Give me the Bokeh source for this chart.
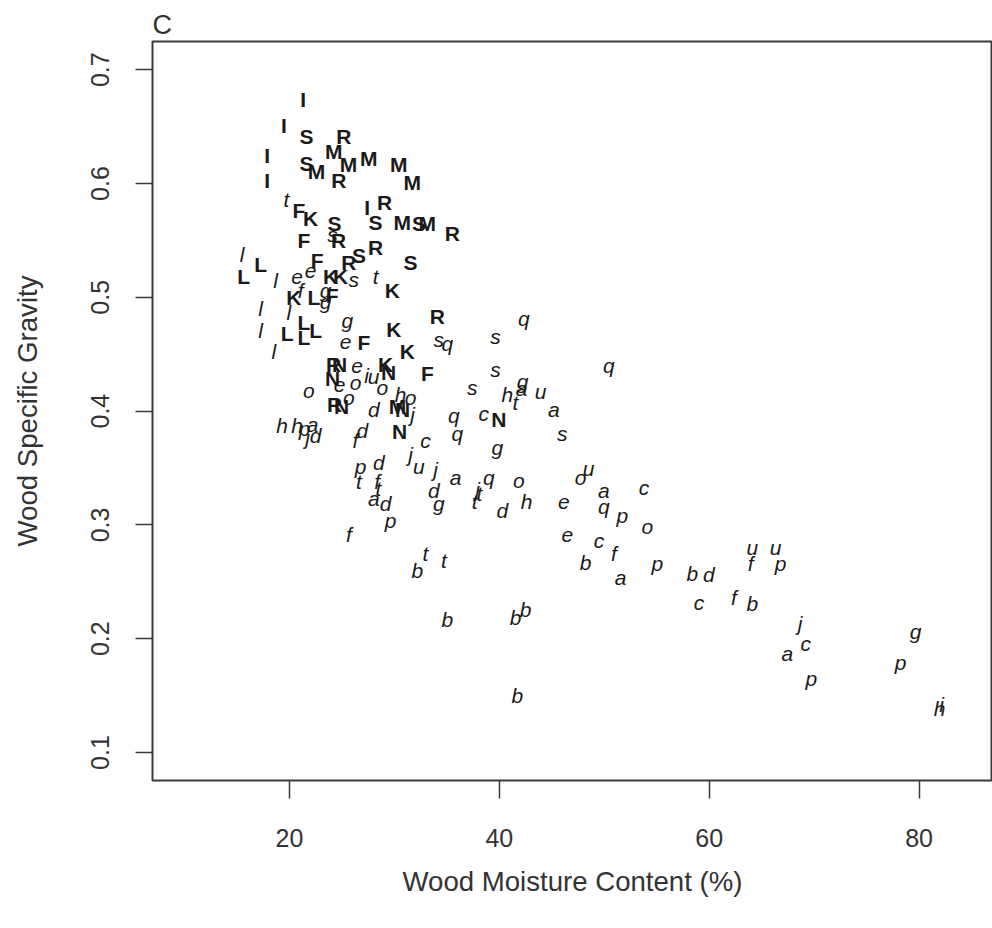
from bokeh.plotting import figure
from bokeh.models import ColumnDataSource, FixedTicker, Range1d
from bokeh.core.properties import value
from bokeh.embed import file_html
from bokeh.resources import INLINE

# Upper-case species codes (bold)
upper_labels = ["I", "I", "S", "R", "I", "M", "S", "M", "M", "M", "M", "R", "I", "M",
                "F", "K", "I", "R", "S", "S", "M", "S", "M", "R", "F", "R", "R", "L",
                "L", "F", "R", "S", "S", "K", "K", "K", "K", "L", "F", "L", "L", "L",
                "L", "F", "K", "R", "K", "F", "R", "N", "K", "N", "N", "R", "N", "M",
                "N", "N", "N"]
upper_moisture = [21.31, 19.46, 21.62, 25.18, 17.87, 24.22, 21.62, 22.57, 25.62, 27.56,
                  30.42, 24.70, 17.87, 31.70, 20.89, 22.00, 27.41, 29.06, 28.20, 24.29,
                  30.74, 32.33, 33.13, 35.51, 21.36, 24.67, 28.20, 17.24, 15.64, 22.64,
                  25.65, 26.61, 31.53, 23.91, 24.86, 29.79, 20.41, 22.32, 24.07, 19.78,
                  21.36, 21.36, 22.48, 27.08, 29.94, 34.08, 31.22, 33.13, 24.19, 24.77,
                  29.15, 29.44, 24.10, 24.29, 24.96, 30.30, 30.77, 30.49, 39.95]
upper_gravity = [0.674, 0.651, 0.641, 0.641, 0.625, 0.628, 0.618, 0.611, 0.617, 0.622,
                 0.617, 0.603, 0.603, 0.601, 0.576, 0.569, 0.579, 0.583, 0.566, 0.565,
                 0.566, 0.565, 0.565, 0.556, 0.550, 0.550, 0.544, 0.529, 0.518, 0.532,
                 0.531, 0.537, 0.531, 0.518, 0.518, 0.506, 0.500, 0.500, 0.502, 0.468,
                 0.478, 0.465, 0.471, 0.460, 0.472, 0.483, 0.452, 0.433, 0.441, 0.441,
                 0.441, 0.434, 0.429, 0.406, 0.404, 0.404, 0.401, 0.382, 0.393]

# Lower-case species codes (italic)
lower_labels = ["t", "s", "l", "l", "e", "e", "s", "t", "f", "g", "g", "l", "l", "l",
                "g", "e", "s", "q", "l", "e", "e", "o", "i", "u", "o", "o", "o", "h",
                "o", "d", "j", "h", "h", "p", "a", "j", "d", "d", "f", "c", "j", "d",
                "p", "u", "j", "a", "q", "t", "f", "t", "d", "j", "t", "t", "a", "d",
                "g", "p", "f", "q", "s", "s", "q", "s", "h", "t", "g", "a", "u", "a",
                "q", "c", "s", "q", "g", "o", "h", "d", "e", "u", "o", "a", "q", "c",
                "p", "o", "e", "c", "f", "b", "a", "p", "b", "d", "c", "f", "b", "u",
                "f", "u", "p", "j", "c", "a", "p", "g", "p", "h", "i", "t", "b", "t",
                "b", "b", "b", "b"]
lower_moisture = [19.71, 24.10, 15.49, 18.67, 20.73, 22.00, 26.13, 28.20, 21.05, 23.43,
                  23.43, 17.24, 19.93, 17.24, 25.50, 25.34, 34.23, 35.03, 18.50, 26.45,
                  24.77, 26.29, 27.34, 28.01, 28.84, 21.84, 25.65, 30.58, 31.53, 28.04,
                  31.73, 19.30, 20.73, 21.43, 22.19, 21.72, 22.48, 26.93, 26.29, 32.96,
                  31.53, 28.51, 26.77, 32.33, 33.92, 35.82, 39.00, 26.61, 28.36, 28.48,
                  33.76, 37.92, 38.11, 37.64, 28.04, 29.15, 34.23, 29.63, 25.65, 42.34,
                  39.64, 39.64, 50.44, 37.42, 40.75, 41.54, 42.21, 42.12, 43.93, 45.20,
                  35.66, 38.52, 46.00, 35.99, 39.80, 41.86, 42.59, 40.28, 46.15, 48.50,
                  47.74, 49.96, 49.96, 53.78, 51.72, 54.10, 46.47, 49.49, 50.92, 48.22,
                  51.55, 55.05, 58.39, 59.97, 59.02, 62.36, 64.11, 64.11, 63.95, 66.33,
                  66.81, 68.65, 69.19, 67.45, 69.73, 79.68, 78.25, 81.96, 82.15, 32.96,
                  32.17, 34.71, 35.03, 41.54, 42.50, 41.71]
lower_gravity = [0.586, 0.555, 0.538, 0.515, 0.518, 0.523, 0.516, 0.518, 0.506, 0.506,
                 0.496, 0.490, 0.487, 0.471, 0.480, 0.461, 0.463, 0.459, 0.452, 0.440,
                 0.423, 0.425, 0.431, 0.430, 0.421, 0.418, 0.412, 0.415, 0.412, 0.401,
                 0.397, 0.387, 0.387, 0.385, 0.388, 0.377, 0.379, 0.383, 0.374, 0.374,
                 0.362, 0.355, 0.351, 0.351, 0.349, 0.342, 0.342, 0.338, 0.338, 0.332,
                 0.330, 0.331, 0.328, 0.321, 0.323, 0.319, 0.319, 0.304, 0.292, 0.481,
                 0.466, 0.437, 0.440, 0.421, 0.415, 0.408, 0.426, 0.420, 0.417, 0.401,
                 0.396, 0.398, 0.380, 0.380, 0.368, 0.339, 0.321, 0.313, 0.320, 0.350,
                 0.342, 0.330, 0.316, 0.333, 0.308, 0.299, 0.291, 0.286, 0.275, 0.267,
                 0.254, 0.266, 0.257, 0.256, 0.232, 0.236, 0.231, 0.280, 0.266, 0.280,
                 0.266, 0.213, 0.196, 0.187, 0.165, 0.206, 0.179, 0.139, 0.142, 0.275,
                 0.260, 0.269, 0.217, 0.219, 0.226, 0.150]

x_ticks = [20, 40, 60, 80]
y_ticks = [0.1, 0.2, 0.3, 0.4, 0.5, 0.6, 0.7]

FONT = "Liberation Sans"

p = figure(width=992, height=928, output_backend="svg", toolbar_location=None,
           x_range=Range1d(6.94, 87.0), y_range=Range1d(0.0754, 0.7248),
           min_border_left=152, min_border_right=0, min_border_top=41,
           min_border_bottom=148, title="C")

p.title.align = "left"
p.title.text_font = FONT
p.title.text_font_size = "27px"
p.title.text_font_style = "normal"
p.title.text_color = "#333333"
p.title.standoff = 4
p.title.offset = 0

p.outline_line_color = "#3a3a3a"
p.outline_line_width = 2
p.xgrid.visible = False
p.ygrid.visible = False
p.background_fill_color = "white"
p.border_fill_color = "white"

upper_src = ColumnDataSource(dict(x=upper_moisture, y=upper_gravity, t=upper_labels))
lower_src = ColumnDataSource(dict(x=lower_moisture, y=lower_gravity, t=lower_labels))

p.text(x="x", y="y", text="t", source=upper_src, text_font=value(FONT),
       text_font_size="21px", text_font_style="bold", text_color="#1a1a1a",
       text_align="center", text_baseline="middle")
p.text(x="x", y="y", text="t", source=lower_src, text_font=value(FONT),
       text_font_size="21px", text_font_style="italic", text_color="#1a1a1a",
       text_align="center", text_baseline="middle")

for ax in (p.xaxis[0], p.yaxis[0]):
    ax.axis_line_color = None
    ax.major_tick_line_color = "#3a3a3a"
    ax.major_tick_line_width = 1.5
    ax.minor_tick_line_color = None
    ax.major_tick_in = 0
    ax.major_label_text_font = FONT
    ax.major_label_text_font_size = "25px"
    ax.major_label_text_color = "#333333"
    ax.axis_label_text_font = FONT
    ax.axis_label_text_font_size = "27.6px"
    ax.axis_label_text_font_style = "normal"
    ax.axis_label_text_color = "#333333"

p.xaxis.ticker = FixedTicker(ticks=x_ticks)
p.yaxis.ticker = FixedTicker(ticks=y_ticks)
p.xaxis.major_tick_out = 18
p.yaxis.major_tick_out = 17
p.xaxis.major_label_standoff = 30
p.yaxis.major_label_standoff = 26
p.yaxis.major_label_orientation = "vertical"
p.xaxis.axis_label = "Wood Moisture Content (%)"
p.yaxis.axis_label = "Wood Specific Gravity"
p.xaxis.axis_label_standoff = 16
p.yaxis.axis_label_standoff = 46

open("out.html", "w").write(file_html(p, INLINE))
